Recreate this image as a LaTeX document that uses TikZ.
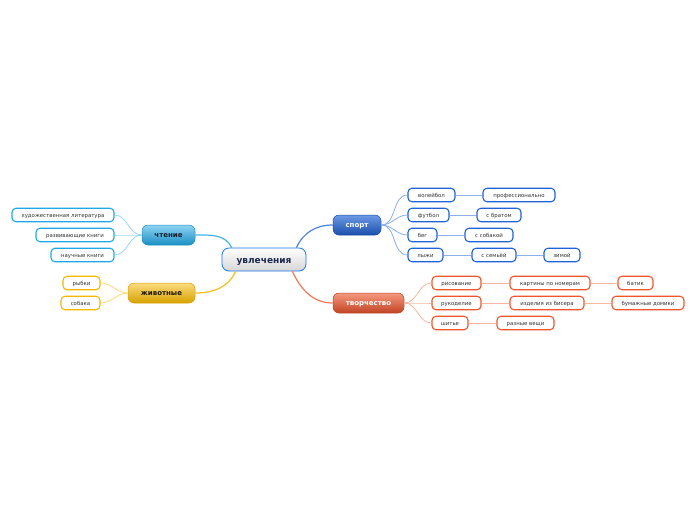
\documentclass[tikz,border=0pt]{standalone}
\usepackage{fontspec}
\setmainfont{DejaVu Sans}
\definecolor{sportc}{HTML}{1F63D6}
\definecolor{sportl}{HTML}{8BB0EA}
\definecolor{tvorc}{HTML}{F0552C}
\definecolor{tvorl}{HTML}{F7B6A0}
\definecolor{readc}{HTML}{1EA8E6}
\definecolor{readl}{HTML}{9AD6F3}
\definecolor{anic}{HTML}{F5B800}
\definecolor{anil}{HTML}{F9DA80}
\definecolor{txt}{HTML}{333333}
\tikzset{
  leaf/.style={draw, line width=1.1pt, rounded corners=4pt, fill=white, minimum height=13.5pt,
    inner sep=0pt, text height=5.2pt, text depth=1.0pt, font=\fontsize{5.4}{6}\selectfont, text=txt},
  sleaf/.style={leaf, draw=sportc},
  tleaf/.style={leaf, draw=tvorc},
  rleaf/.style={leaf, draw=readc},
  aleaf/.style={leaf, draw=anic},
  mainnode/.style={rounded corners=6pt, minimum height=20pt, inner sep=0pt,
    text height=7pt, text depth=1.2pt, font=\bfseries\fontsize{7}{8}\selectfont},
  slink/.style={sportl, line width=0.8pt},
  tlink/.style={tvorl, line width=0.8pt},
  rlink/.style={readl, line width=0.8pt},
  alink/.style={anil, line width=0.8pt},
}
\begin{document}
\begin{tikzpicture}[x=1pt,y=1pt]
\useasboundingbox[fill=white] (0,0) rectangle (696,-520);
% central
\node[mainnode, minimum width=84pt, minimum height=23pt, rounded corners=7pt, top color=white, bottom color=gray!32, draw=readc!70!blue, line width=0.8pt,
  text height=8.8pt, text depth=1.5pt,
  font=\bfseries\fontsize{9}{10}\selectfont, text={rgb,255:red,25;green,40;blue,75}] (cen) at (264,-259.5) {увлечения};
% main nodes
\node[mainnode, minimum width=48pt, top color=sportc!65!white, bottom color=sportc!80!black, draw=sportc!80!black, line width=0.5pt, text=white] (spo) at (357,-225) {спорт};
\node[mainnode, minimum width=71pt, top color=tvorc!60!white, bottom color=tvorc!80!black, draw=tvorc!80!black, line width=0.5pt, text=white] (tvo) at (368.5,-303) {творчество};
\node[mainnode, minimum width=53pt, top color=readc!50!white, bottom color=readc!85!black, draw=readc!85!black, line width=0.5pt, text={rgb,255:red,20;green,30;blue,45}] (rea) at (168.5,-235) {чтение};
\node[mainnode, minimum width=67pt, top color=anic!50!white, bottom color=anic!88!black, draw=anic!88!black, line width=0.5pt, text={rgb,255:red,30;green,25;blue,10}] (ani) at (161.5,-293) {животные};
% main connectors
\draw[sportc!80, line width=1.2pt] ([xshift=-10pt]cen.north east) to[out=65,in=180] (spo.west);
\draw[tvorc!80, line width=1.2pt] ([xshift=-14pt]cen.south east) to[out=-65,in=180] (tvo.west);
\draw[readc!85, line width=1.2pt] ([xshift=10pt]cen.north west) to[out=115,in=0] (rea.east);
\draw[anic!90, line width=1.2pt] ([xshift=14pt]cen.south west) to[out=-115,in=0] (ani.east);
% sport leaves
\node[sleaf, minimum width=47pt] (vol) at (431.5,-195) {волейбол};
\node[sleaf, minimum width=72pt] (pro) at (519,-195) {профессионально};
\node[sleaf, minimum width=41pt] (fut) at (428.5,-215) {футбол};
\node[sleaf, minimum width=44pt] (bra) at (499,-215) {с братом};
\node[sleaf, minimum width=29pt] (beg) at (422.5,-235) {бег};
\node[sleaf, minimum width=48pt] (sob) at (489,-235) {с собакой};
\node[sleaf, minimum width=35pt] (lyz) at (425.5,-255) {лыжи};
\node[sleaf, minimum width=44pt] (sem) at (494,-255) {с семьёй};
\node[sleaf, minimum width=36pt] (zim) at (562,-255) {зимой};
\foreach \n in {vol,fut,beg,lyz}{\draw[slink] (spo.east) to[out=0,in=180] (\n.west);}
\draw[slink] (vol) -- (pro);
\draw[slink] (fut) -- (bra);
\draw[slink] (beg) -- (sob);
\draw[slink] (lyz) -- (sem);
\draw[slink] (sem) -- (zim);
% tvorchestvo leaves
\node[tleaf, minimum width=49pt] (ris) at (456.5,-283) {рисование};
\node[tleaf, minimum width=80pt] (kar) at (550,-283) {картины по номерам};
\node[tleaf, minimum width=35pt] (bat) at (635.5,-283) {батик};
\node[tleaf, minimum width=49pt] (ruk) at (456.5,-303) {рукоделие};
\node[tleaf, minimum width=74pt] (biz) at (547,-303) {изделия из бисера};
\node[tleaf, minimum width=72pt] (bum) at (648,-303) {бумажные домики};
\node[tleaf, minimum width=36pt] (shi) at (450,-323) {шитье};
\node[tleaf, minimum width=57pt] (raz) at (525.5,-323) {разные вещи};
\foreach \n in {ris,ruk,shi}{\draw[tlink] (tvo.east) to[out=0,in=180] (\n.west);}
\draw[tlink] (ris) -- (kar);
\draw[tlink] (kar) -- (bat);
\draw[tlink] (ruk) -- (biz);
\draw[tlink] (biz) -- (bum);
\draw[tlink] (shi) -- (raz);
% reading leaves
\node[rleaf, minimum width=102pt] (hud) at (63,-215) {художественная литература};
\node[rleaf, minimum width=78pt] (rkn) at (75,-235) {развивающие книги};
\node[rleaf, minimum width=63pt] (nkn) at (82.5,-255) {научные книги};
\foreach \n in {hud,rkn,nkn}{\draw[rlink] (rea.west) to[out=180,in=0] (\n.east);}
% animals leaves
\node[aleaf, minimum width=37pt] (ryb) at (81.5,-283) {рыбки};
\node[aleaf, minimum width=39pt] (sbk) at (80.5,-303) {собака};
\foreach \n in {ryb,sbk}{\draw[alink] (ani.west) to[out=180,in=0] (\n.east);}
\end{tikzpicture}
\end{document}
